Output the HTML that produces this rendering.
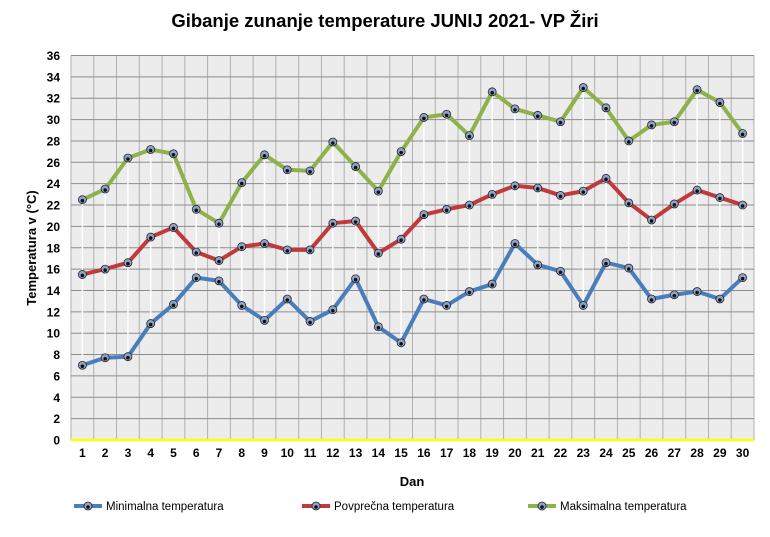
<!DOCTYPE html>
<html><head><meta charset="utf-8"><style>
body{margin:0;background:#fff;}
svg text{font-family:"Liberation Sans",sans-serif;font-weight:bold;}
</style></head><body>
<svg id="s" width="770" height="532" xmlns="http://www.w3.org/2000/svg">
<text x="385" y="27" font-size="18.5" text-anchor="middle" fill="#000">Gibanje zunanje  temperature JUNIJ 2021- VP Žiri</text>
<rect x="71" y="55.5" width="683" height="384.5" fill="#ececec"/>
<g id="g"></g>
<text x="412" y="486" font-size="13" text-anchor="middle">Dan</text>
<text transform="translate(36,248) rotate(-90)" font-size="13" text-anchor="middle">Temperatura v (°C)</text>
</svg>
<script>
const mn=[7,7.7,7.8,10.9,12.7,15.2,14.9,12.6,11.2,13.2,11.1,12.2,15.1,10.6,9.1,13.2,12.6,13.9,14.6,18.4,16.4,15.8,12.6,16.6,16.1,13.2,13.6,13.9,13.2,15.2];
const av=[15.5,16.0,16.6,19,19.9,17.6,16.8,18.1,18.4,17.8,17.8,20.3,20.5,17.5,18.8,21.1,21.6,22,23,23.8,23.6,22.9,23.3,24.5,22.2,20.6,22.1,23.4,22.7,22];
const mx=[22.5,23.5,26.4,27.2,26.8,21.6,20.3,24.1,26.7,25.3,25.2,27.9,25.6,23.3,27,30.2,30.5,28.5,32.6,31,30.4,29.8,33,31.1,28,29.5,29.8,32.8,31.6,28.7];
const L=71,R=754,T=55.5,B=440,W=(R-L)/30,Y=v=>B-v*(B-T)/36,X=i=>L+W*(i+0.5);
let h='';
for(let i=0;i<=30;i++){const x=L+W*i;h+=`<line x1="${x}" y1="${T}" x2="${x}" y2="${B}" stroke="#b0b0b0" stroke-width="1"/>`;}
for(let v=0;v<=36;v+=2){const y=Y(v);if(v>0)h+=`<line x1="${L}" y1="${y}" x2="${R}" y2="${y}" stroke="#8c8c8c" stroke-width="1"/>`;h+=`<text x="60" y="${y+4.5}" font-size="12" text-anchor="end">${v}</text>`;}
h+=`<line x1="${L}" y1="${B}" x2="${R}" y2="${B}" stroke="#ffff00" stroke-width="2.5"/>`;
for(let i=0;i<30;i++){h+=`<line x1="${X(i)}" y1="${Y(mx[i])}" x2="${X(i)}" y2="${Y(mn[i])}" stroke="#fff" stroke-width="1.5"/>`;h+=`<text x="${X(i)}" y="457" font-size="12" text-anchor="middle">${i+1}</text>`;}
function ser(d,c){let p=d.map((v,i)=>X(i)+','+Y(v)).join(' ');let s=`<polyline points="${p}" fill="none" stroke="${c}" stroke-width="4" stroke-linejoin="round"/>`;d.forEach((v,i)=>{s+=`<circle cx="${X(i)}" cy="${Y(v)}" r="4" fill="#8fa4c4" stroke="#223" stroke-width="0.8"/><circle cx="${X(i)}" cy="${Y(v)+1}" r="1.8" fill="#111"/>`});return s;}
h+=ser(mx,'#8fb14a')+ser(av,'#c0393b')+ser(mn,'#4a7ebb');
function leg(x,c,t){return `<line x1="${x}" y1="506" x2="${x+28}" y2="506" stroke="${c}" stroke-width="4"/><circle cx="${x+14}" cy="506" r="4" fill="#8fa4c4" stroke="#223" stroke-width="0.8"/><circle cx="${x+14}" cy="507" r="1.8" fill="#111"/><text x="${x+32}" y="510" font-size="11.5" style="font-weight:normal">${t}</text>`;}
h+=leg(74,'#4a7ebb','Minimalna temperatura')+leg(302,'#c0393b','Povprečna temperatura')+leg(528,'#8fb14a','Maksimalna temperatura');
document.getElementById('g').innerHTML=h;
</script>
</body></html>
